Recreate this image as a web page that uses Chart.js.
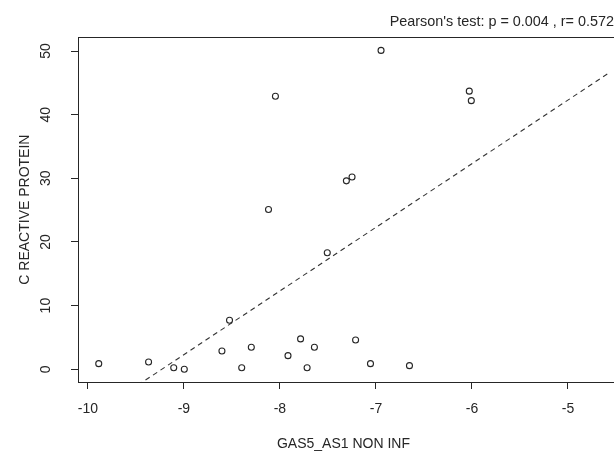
<!DOCTYPE html>
<html>
<head>
<meta charset="utf-8">
<script src="https://cdn.jsdelivr.net/npm/chart.js@4/dist/chart.umd.min.js"></script>
<style>
	html, body { margin: 0; padding: 0; background: #fff; overflow: hidden; }
	canvas { display: block; }
</style>
</head>
<body>
<canvas id="chart" width="614" height="453"></canvas>
<script>
// GAS5_AS1 (non inf) vs C reactive protein
const gasValues = [
	-9.887, -9.368, -9.106, -8.996, -8.604, -8.525, -8.398, -8.298, -8.119,
	-8.047, -7.916, -7.785, -7.717, -7.641, -7.507, -7.308, -7.249, -7.212,
	-7.057, -6.947, -6.651, -6.028, -6.007,
];
const crpValues = [
	0.88, 1.15, 0.25, 0.0, 2.88, 7.71, 0.25, 3.46, 25.1,
	42.9, 2.14, 4.77, 0.25, 3.46, 18.3, 29.6, 30.2, 4.61,
	0.88, 50.1, 0.57, 43.7, 42.2,
];
const xTicks = [-10, -9, -8, -7, -6, -5];
const yTicks = [0, 10, 20, 30, 40, 50];

// abline(lm(...))
const fitIntercept = 92.3;
const fitSlope = 10.0;

const xRange = [-10.103, -4.574];
const yRange = [-2.0, 52.16];

const ink = "#262626";
const fontFamily = "'Liberation Sans', Arial, sans-serif";

const fitLine = xRange.map(x => ({ x, y: fitIntercept + fitSlope * x }));

const rAxes = {
	id: "rAxes",
	afterDraw(chart) {
		const { ctx, chartArea, scales } = chart;
		ctx.save();
		ctx.strokeStyle = ink;
		ctx.lineWidth = 1;
		ctx.strokeRect(
			Math.round(chartArea.left) + 0.5,
			Math.round(chartArea.top) + 0.5,
			chartArea.right - chartArea.left + 20,
			Math.round(chartArea.bottom - chartArea.top)
		);

		ctx.fillStyle = ink;
		ctx.font = `14px ${fontFamily}`;
		ctx.textAlign = "center";
		ctx.textBaseline = "middle";
		xTicks.forEach(v =>
			ctx.fillText(String(v), scales.x.getPixelForValue(v), 409)
		);

		ctx.textBaseline = "alphabetic";
		yTicks.forEach(v => {
			ctx.save();
			ctx.translate(50, scales.y.getPixelForValue(v));
			ctx.rotate(-Math.PI / 2);
			ctx.fillText(String(v), 0, 0);
			ctx.restore();
		});
		ctx.restore();
	},
};

const tickGrid = {
	display: true,
	drawOnChartArea: false,
	drawTicks: true,
	tickLength: 7,
	color: ink,
	lineWidth: 1,
};

new Chart(document.getElementById("chart"), {
	type: "scatter",
	plugins: [rAxes],
	data: {
		datasets: [
			{
				data: gasValues.map((x, i) => ({ x, y: crpValues[i] })),
				pointStyle: "circle",
				pointRadius: 3,
				borderWidth: 1.1,
				borderColor: ink,
				backgroundColor: "rgba(0,0,0,0)",
			},
			{
				type: "line",
				data: fitLine,
				borderColor: "#333",
				borderWidth: 1.1,
				borderDash: [5, 4],
				pointRadius: 0,
				fill: false,
			},
		],
	},
	options: {
		responsive: false,
		animation: false,
		devicePixelRatio: 1,
		layout: { padding: 0 },
		plugins: {
			legend: { display: false },
			tooltip: { enabled: false },
			title: {
				display: true,
				text: "Pearson's test: p = 0.004 , r= 0.572",
				align: "end",
				color: ink,
				font: { family: fontFamily, size: 14.4, weight: "normal" },
				padding: { top: 13, bottom: 7 },
			},
		},
		scales: {
			x: {
				type: "linear",
				min: xRange[0],
				max: xRange[1],
				afterBuildTicks: scale => {
					scale.ticks = xTicks.map(value => ({ value }));
				},
				afterFit: scale => {
					scale.height = 71;
				},
				ticks: { display: false },
				grid: tickGrid,
				border: { display: false },
				title: {
					display: true,
					text: "GAS5_AS1 NON INF",
					color: ink,
					font: { family: fontFamily, size: 14 },
					padding: { top: 0, bottom: 0 },
				},
			},
			y: {
				type: "linear",
				min: yRange[0],
				max: yRange[1],
				afterBuildTicks: scale => {
					scale.ticks = yTicks.map(value => ({ value }));
				},
				afterFit: scale => {
					scale.width = 78;
				},
				ticks: { display: false },
				grid: tickGrid,
				border: { display: false },
				title: {
					display: true,
					text: "C REACTIVE PROTEIN",
					color: ink,
					font: { family: fontFamily, size: 14 },
					padding: { top: 16.6, bottom: 0 },
				},
			},
		},
	},
});
</script>
</body>
</html>
